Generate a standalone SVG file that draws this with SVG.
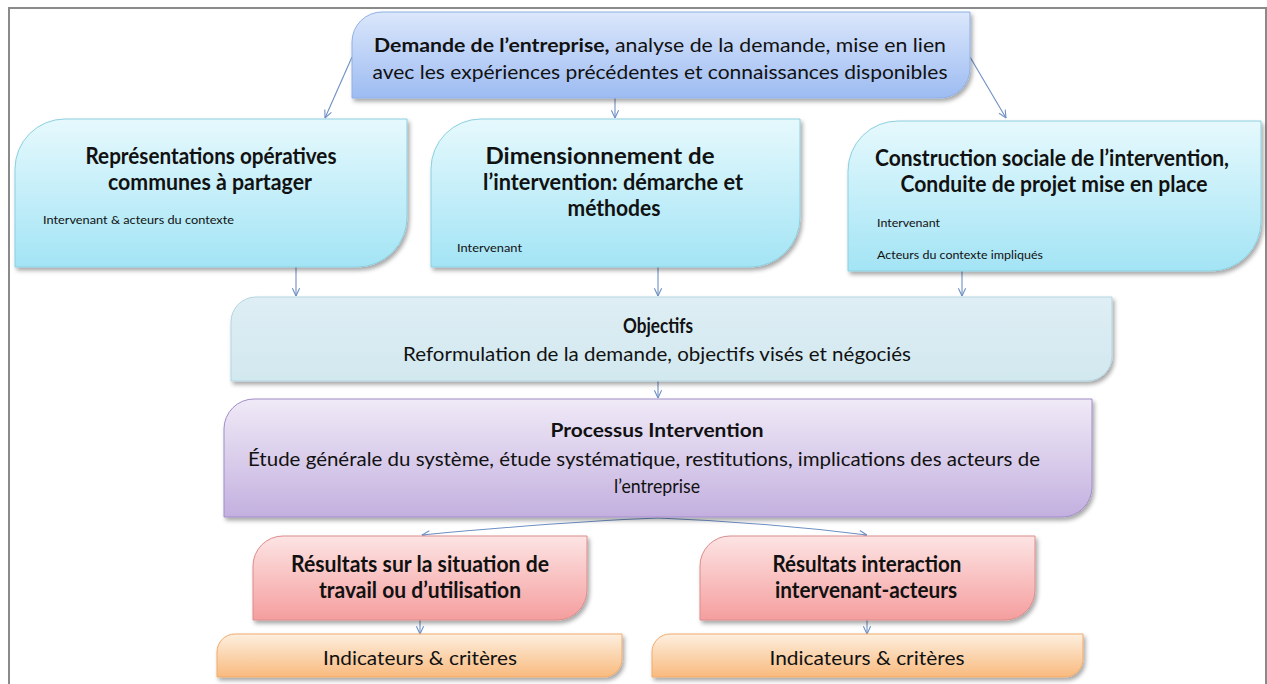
<svg xmlns="http://www.w3.org/2000/svg" width="1267" height="684" viewBox="0 0 1267 684">
<style>
text{font-family:Lato,"Liberation Sans","DejaVu Sans",sans-serif;fill:#111;}
.t{font-size:19px;}
.b{font-weight:bold;}
.h{font-size:22px;font-weight:bold;}
.s{font-size:11px;}
.c{text-anchor:middle;}
.con{fill:none;stroke:#6e8fc4;stroke-width:1.1;marker-end:url(#ah);}
</style>
<defs>
<linearGradient id="gBlue" x1="0" y1="0" x2="0" y2="1"><stop offset="0" stop-color="#dbe7fb"/><stop offset="1" stop-color="#9dbcf2"/></linearGradient>
<linearGradient id="gCyan" x1="0" y1="0" x2="0" y2="1"><stop offset="0" stop-color="#e6f9fd"/><stop offset="1" stop-color="#a3e4f5"/></linearGradient>
<linearGradient id="gObj" x1="0" y1="0" x2="0" y2="1"><stop offset="0" stop-color="#deeef4"/><stop offset="1" stop-color="#d2e8ef"/></linearGradient>
<linearGradient id="gPurp" x1="0" y1="0" x2="0" y2="1"><stop offset="0" stop-color="#f0eaf7"/><stop offset="1" stop-color="#c3b0df"/></linearGradient>
<linearGradient id="gPink" x1="0" y1="0" x2="0" y2="1"><stop offset="0" stop-color="#fde4e4"/><stop offset="1" stop-color="#f59e9e"/></linearGradient>
<linearGradient id="gOrg" x1="0" y1="0" x2="0" y2="1"><stop offset="0" stop-color="#fdefdf"/><stop offset="1" stop-color="#f9ba7e"/></linearGradient>
<filter id="sh" x="-5%" y="-10%" width="110%" height="130%"><feDropShadow dx="2" dy="3" stdDeviation="2" flood-color="#000" flood-opacity="0.35"/></filter>
<marker id="ah" viewBox="0 0 10 10" refX="9.5" refY="5" markerWidth="9" markerHeight="9" orient="auto" markerUnits="userSpaceOnUse"><path d="M1,1 L9.5,5 L1,9" fill="none" stroke="#6e8fc4" stroke-width="1.2"/></marker>
</defs>
<rect x="0" y="0" width="1267" height="684" fill="#fff"/>
<rect x="9" y="8" width="1257" height="690" fill="none" stroke="#8a8a8a" stroke-width="2"/>

<g id="connectors">
<path class="con" d="M352,57 L325,118"/>
<path class="con" d="M615,98 L615,118"/>
<path class="con" d="M970,57 L1006,118"/>
<path class="con" d="M296,267 L296,296"/>
<path class="con" d="M658,267 L658,296"/>
<path class="con" d="M962,271 L962,296"/>
<path class="con" d="M658,381 L658,398"/>
<path class="con" d="M658,518 Q560,522 422,535"/>
<path class="con" d="M658,518 Q760,522 867,535"/>
<path class="con" d="M420,620 L420,634"/>
<path class="con" d="M867,620 L867,634"/>
</g>

<g id="demande">
<path d="M352,98 V42 A30,30 0 0 1 382,12 H970 V68 A30,30 0 0 1 940,98 Z" fill="url(#gBlue)" stroke="#8fb0e6" filter="url(#sh)"/>
<text class="t c" x="660" y="52" textLength="572" lengthAdjust="spacingAndGlyphs"><tspan class="b">Demande de l’entreprise,</tspan> analyse de la demande, mise en lien</text>
<text class="t c" x="660" y="79" textLength="575" lengthAdjust="spacingAndGlyphs">avec les expériences précédentes et connaissances disponibles</text>
</g>

<g id="representations">
<path d="M15,267 V169 A50,50 0 0 1 65,119 H407 V217 A50,50 0 0 1 357,267 Z" fill="url(#gCyan)" stroke="#8ccfe0" filter="url(#sh)"/>
<text class="h c" x="211" y="164" textLength="251" lengthAdjust="spacingAndGlyphs">Représentations opératives</text>
<text class="h c" x="210" y="190" textLength="204" lengthAdjust="spacingAndGlyphs">communes à partager</text>
<text class="s" x="43" y="224" textLength="191" lengthAdjust="spacingAndGlyphs">Intervenant &amp; acteurs du contexte</text>
</g>

<g id="dimensionnement">
<path d="M431,267 V169 A50,50 0 0 1 481,119 H800 V217 A50,50 0 0 1 750,267 Z" fill="url(#gCyan)" stroke="#8ccfe0" filter="url(#sh)"/>
<text class="h c" x="600" y="164" textLength="229" lengthAdjust="spacingAndGlyphs">Dimensionnement de</text>
<text class="h c" x="613" y="190" textLength="260" lengthAdjust="spacingAndGlyphs">l’intervention: démarche et</text>
<text class="h c" x="614" y="216" textLength="93" lengthAdjust="spacingAndGlyphs">méthodes</text>
<text class="s" x="457" y="252" textLength="65" lengthAdjust="spacingAndGlyphs">Intervenant</text>
</g>

<g id="construction">
<path d="M848,271 V171 A50,50 0 0 1 898,121 H1261 V221 A50,50 0 0 1 1211,271 Z" fill="url(#gCyan)" stroke="#8ccfe0" filter="url(#sh)"/>
<text class="h c" x="1052" y="166" textLength="354" lengthAdjust="spacingAndGlyphs">Construction sociale de l’intervention,</text>
<text class="h c" x="1054" y="192" textLength="307" lengthAdjust="spacingAndGlyphs">Conduite de projet mise en place</text>
<text class="s" x="877" y="227" textLength="63" lengthAdjust="spacingAndGlyphs">Intervenant</text>
<text class="s" x="877" y="259" textLength="166" lengthAdjust="spacingAndGlyphs">Acteurs du contexte impliqués</text>
</g>

<g id="objectifs">
<path d="M231,381 V322 A25,25 0 0 1 256,297 H1112 V356 A25,25 0 0 1 1087,381 Z" fill="url(#gObj)" stroke="#b3d5e1" filter="url(#sh)"/>
<text class="c b" style="font-size:20px" x="658" y="333" textLength="70" lengthAdjust="spacingAndGlyphs">Objectifs</text>
<text class="t c" x="657" y="361" textLength="508" lengthAdjust="spacingAndGlyphs">Reformulation de la demande, objectifs visés et négociés</text>
</g>

<g id="processus">
<path d="M224,517 V429 A30,30 0 0 1 254,399 H1092 V487 A30,30 0 0 1 1062,517 Z" fill="url(#gPurp)" stroke="#a08dc9" filter="url(#sh)"/>
<text class="t c b" x="657" y="437" textLength="213" lengthAdjust="spacingAndGlyphs">Processus Intervention</text>
<text class="t c" x="644" y="466" textLength="792" lengthAdjust="spacingAndGlyphs">Étude générale du système, étude systématique, restitutions, implications des acteurs de</text>
<text class="t c" x="657" y="493" textLength="86" lengthAdjust="spacingAndGlyphs">l’entreprise</text>
</g>

<g id="resultats-situation">
<path d="M253,620 V566 A30,30 0 0 1 283,536 H587 V590 A30,30 0 0 1 557,620 Z" fill="url(#gPink)" stroke="#dc8c8c" filter="url(#sh)"/>
<text class="h c" x="420" y="572" textLength="258" lengthAdjust="spacingAndGlyphs">Résultats sur la situation de</text>
<text class="h c" x="420" y="598" textLength="202" lengthAdjust="spacingAndGlyphs">travail ou d’utilisation</text>
</g>

<g id="resultats-interaction">
<path d="M700,620 V566 A30,30 0 0 1 730,536 H1035 V590 A30,30 0 0 1 1005,620 Z" fill="url(#gPink)" stroke="#dc8c8c" filter="url(#sh)"/>
<text class="h c" x="867" y="572" textLength="189" lengthAdjust="spacingAndGlyphs">Résultats interaction</text>
<text class="h c" x="866" y="598" textLength="182" lengthAdjust="spacingAndGlyphs">intervenant-acteurs</text>
</g>

<g id="indicateurs-1">
<path d="M217,677 V652 A18,18 0 0 1 235,634 H622 V659 A18,18 0 0 1 604,677 Z" fill="url(#gOrg)" stroke="#f0ab6c" filter="url(#sh)"/>
<text class="t c" x="420" y="665" textLength="194" lengthAdjust="spacingAndGlyphs">Indicateurs &amp; critères</text>
</g>

<g id="indicateurs-2">
<path d="M652,677 V652 A18,18 0 0 1 670,634 H1083 V659 A18,18 0 0 1 1065,677 Z" fill="url(#gOrg)" stroke="#f0ab6c" filter="url(#sh)"/>
<text class="t c" x="867" y="665" textLength="195" lengthAdjust="spacingAndGlyphs">Indicateurs &amp; critères</text>
</g>
</svg>
